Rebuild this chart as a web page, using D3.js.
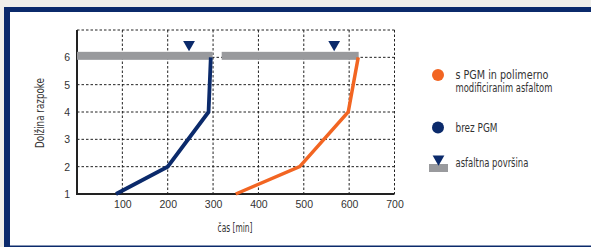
<!DOCTYPE html>
<html><head><meta charset="utf-8">
<script src="https://cdn.jsdelivr.net/npm/d3@7"></script>
<style>
html,body{margin:0;padding:0;background:#f0efea;}
svg{display:block;}
.cond{font-family:"DejaVu Sans Condensed","Liberation Sans Narrow","Arial Narrow",sans-serif;font-stretch:condensed;}
.tick text{font-family:"Liberation Sans",Arial,sans-serif;font-size:10.5px;fill:#333;}
</style></head>
<body>
<script>
// data
const xTicks = [100,200,300,400,500,600,700];
const yTicks = [1,2,3,4,5,6];
const brezPGM = [[86,1],[200,2],[290,4],[295,6]];
const sPGM = [[350,1],[491,2],[598,4],[620,6]];
const surfaceSegments = [[0,299],[319,621]];
const surfaceMarkers = [247,567];
const surfaceLevel = 6;
const xTitle = "čas [min]";
const yTitle = "Dolžina razpoke";
const legendLabels = [["s PGM in polimerno","modificiranim asfaltom"],["brez PGM"],["asfaltna površina"]];

const navy = "#0b2a6b", orange = "#f26522", grey = "#999a9d";
const W = 591, H = 247;
const svg = d3.select("body").append("svg").attr("width",W).attr("height",H);

// frame
svg.append("rect").attr("x",4).attr("y",7).attr("width",W).attr("height",H-7).attr("fill","#0b2a6b");
svg.append("rect").attr("x",10).attr("y",12).attr("width",W).attr("height",H-12-1.5).attr("fill","#ffffff");

const x = d3.scaleLinear().domain([0,700]).range([77,394.5]);
const y = d3.scaleLinear().domain([1,7]).range([194,30]);

// grid
const g = svg.append("g");
const dash = "2.5,2";
g.selectAll(".vg").data(xTicks).join("line")
  .attr("x1",d=>x(d)).attr("x2",d=>x(d)).attr("y1",y(7)).attr("y2",y(1))
  .attr("stroke","#222").attr("stroke-width",1).attr("stroke-dasharray",dash);
g.selectAll(".hg").data(yTicks.slice(1).concat([7])).join("line")
  .attr("x1",x(0)).attr("x2",x(700)).attr("y1",d=>y(d)).attr("y2",d=>y(d))
  .attr("stroke","#222").attr("stroke-width",1).attr("stroke-dasharray",dash);

// axes
const xAxis = d3.axisBottom(x).tickValues(xTicks).tickFormat(d3.format("d")).tickSize(0).tickPadding(7);
const ax = svg.append("g").attr("transform",`translate(0,${y(1)})`).call(xAxis);
ax.select(".domain").remove();
const yAxis = d3.axisLeft(y).tickValues(yTicks).tickFormat(d3.format("d")).tickSize(0).tickPadding(7);
const ay = svg.append("g").attr("transform",`translate(${x(0)},0)`).call(yAxis);
ay.select(".domain").remove();
svg.append("line").attr("x1",x(0)).attr("x2",x(0)).attr("y1",y(7)).attr("y2",y(1)+1)
  .attr("stroke","#222").attr("stroke-width",2);
svg.append("line").attr("x1",x(0)-1).attr("x2",x(700)).attr("y1",y(1)).attr("y2",y(1))
  .attr("stroke","#222").attr("stroke-width",2);

// surface bars
svg.selectAll(".surf").data(surfaceSegments).join("rect")
  .attr("x",d=>x(d[0])).attr("width",d=>x(d[1])-x(d[0]))
  .attr("y",y(surfaceLevel)-5.5).attr("height",8).attr("fill",grey);
// markers
const tri = d3.symbol().type(d3.symbolTriangle).size(60);
svg.selectAll(".mk").data(surfaceMarkers).join("path")
  .attr("d",tri).attr("fill",navy)
  .attr("transform",d=>`translate(${x(d)},${y(surfaceLevel)-13}) rotate(180)`);

// lines
const line = d3.line().x(d=>x(d[0])).y(d=>y(d[1]));
svg.append("path").datum(brezPGM).attr("d",line).attr("fill","none")
  .attr("stroke",navy).attr("stroke-width",3.8).attr("stroke-linejoin","miter");
svg.append("path").datum(sPGM).attr("d",line).attr("fill","none")
  .attr("stroke",orange).attr("stroke-width",3.5).attr("stroke-linejoin","miter");

// condensed text: scale horizontally to the reference width
function ctext(parent, tx, ty, s, target, size, anchor, rot){
  const gg = parent.append("g");
  const t = gg.append("text").attr("class","cond").attr("font-size",size).attr("fill","#333")
    .attr("text-anchor",anchor||"start").text(s);
  const len = t.node().getComputedTextLength();
  const k = Math.min(1, target/len);
  gg.attr("transform",`translate(${tx},${ty})${rot?` rotate(${rot})`:""} scale(${k},1)`);
  return t;
}
// titles
ctext(svg,235,231.5,xTitle,35,13,"middle");
ctext(svg,43.5,113,yTitle,70,13,"middle",-90);

// legend
const lg = svg.append("g");
lg.append("circle").attr("cx",438).attr("cy",75).attr("r",6).attr("fill",orange);
ctext(lg,455.5,78.5,legendLabels[0][0],93,12.5);
ctext(lg,455.5,92,legendLabels[0][1],97,12.5);
lg.append("circle").attr("cx",438).attr("cy",127.5).attr("r",6).attr("fill",navy);
ctext(lg,455.5,131.5,legendLabels[1][0],42,12.5);
lg.append("rect").attr("x",429).attr("y",164).attr("width",19).attr("height",8).attr("fill",grey);
lg.append("path").attr("d",tri).attr("fill",navy).attr("transform","translate(438.5,159) rotate(180)");
ctext(lg,455.5,167,legendLabels[2][0],73,12.5);
</script>
</body></html>
